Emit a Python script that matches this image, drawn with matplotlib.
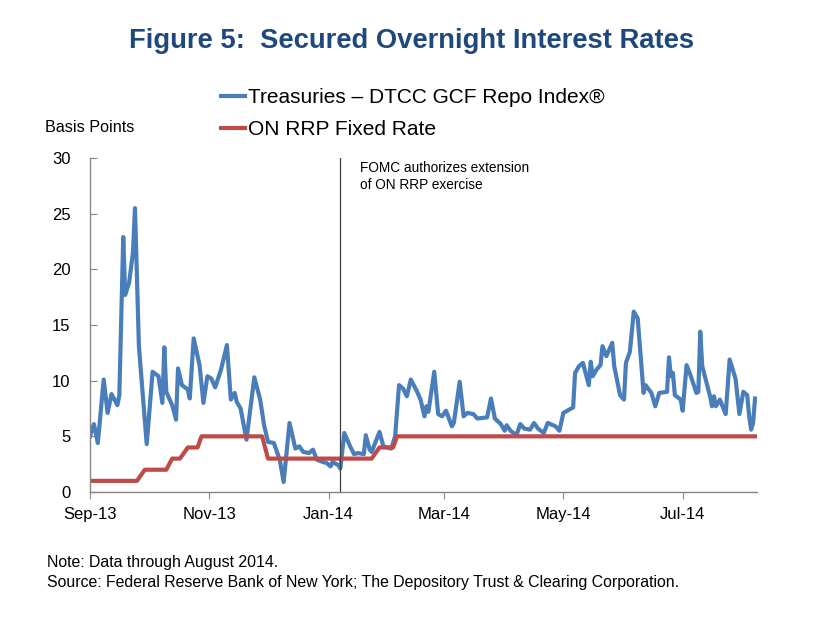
import matplotlib
matplotlib.use("Agg")
import matplotlib.pyplot as plt
import matplotlib.dates as mdates
import pandas as pd

# ---- data (basis points) ----
repo_dates = [
    "2013-09-23", "2013-09-25", "2013-09-27", "2013-09-30", "2013-10-02", "2013-10-04",
    "2013-10-07", "2013-10-08", "2013-10-10", "2013-10-11", "2013-10-13", "2013-10-15",
    "2013-10-16", "2013-10-18", "2013-10-22", "2013-10-25", "2013-10-28", "2013-10-30",
    "2013-10-31", "2013-11-01", "2013-11-04", "2013-11-06", "2013-11-07", "2013-11-09",
    "2013-11-12", "2013-11-13", "2013-11-15", "2013-11-18", "2013-11-20", "2013-11-22",
    "2013-11-24", "2013-11-26", "2013-11-29", "2013-12-02", "2013-12-04", "2013-12-06",
    "2013-12-07", "2013-12-09", "2013-12-12", "2013-12-16", "2013-12-19", "2013-12-21",
    "2013-12-23", "2013-12-26", "2013-12-29", "2013-12-31", "2014-01-03", "2014-01-06",
    "2014-01-08", "2014-01-10", "2014-01-13", "2014-01-15", "2014-01-17", "2014-01-20",
    "2014-01-22", "2014-01-24", "2014-01-25", "2014-01-28", "2014-01-29", "2014-01-31",
    "2014-02-03", "2014-02-05", "2014-02-07", "2014-02-10", "2014-02-11", "2014-02-13",
    "2014-02-14", "2014-02-18", "2014-02-20", "2014-02-24", "2014-02-26", "2014-02-28",
    "2014-03-02", "2014-03-04", "2014-03-06", "2014-03-09", "2014-03-11", "2014-03-13",
    "2014-03-14", "2014-03-15", "2014-03-18", "2014-03-20", "2014-03-22", "2014-03-24",
    "2014-03-27", "2014-03-28", "2014-03-31", "2014-04-02", "2014-04-04", "2014-04-07",
    "2014-04-09", "2014-04-14", "2014-04-16", "2014-04-18", "2014-04-21", "2014-04-23",
    "2014-04-24", "2014-04-26", "2014-04-29", "2014-05-01", "2014-05-03", "2014-05-06",
    "2014-05-08", "2014-05-10", "2014-05-13", "2014-05-15", "2014-05-19", "2014-05-21",
    "2014-05-23", "2014-05-26", "2014-05-28", "2014-05-29", "2014-05-31", "2014-06-02",
    "2014-06-05", "2014-06-06", "2014-06-07", "2014-06-09", "2014-06-11", "2014-06-12",
    "2014-06-14", "2014-06-17", "2014-06-18", "2014-06-21", "2014-06-23", "2014-06-24",
    "2014-06-26", "2014-06-28", "2014-06-30", "2014-07-03", "2014-07-04", "2014-07-07",
    "2014-07-09", "2014-07-11", "2014-07-15", "2014-07-16", "2014-07-17", "2014-07-18",
    "2014-07-19", "2014-07-22", "2014-07-23", "2014-07-25", "2014-07-27", "2014-07-30",
    "2014-07-31", "2014-08-01", "2014-08-02", "2014-08-06", "2014-08-07", "2014-08-08",
    "2014-08-09", "2014-08-11", "2014-08-14", "2014-08-16", "2014-08-19", "2014-08-21",
    "2014-08-23", "2014-08-25", "2014-08-26", "2014-08-27", "2014-08-28", "2014-08-29",
]
repo_values = [
    5.0, 6.1, 4.4, 10.1, 7.1, 8.8,
    7.8, 8.7, 22.9, 17.7, 18.8, 21.6,
    25.5, 13.1, 4.3, 10.8, 10.4, 8.0,
    13.0, 9.0, 7.8, 6.5, 11.1, 9.6,
    9.2, 8.4, 13.8, 11.4, 8.0, 10.4,
    10.2, 9.4, 11.0, 13.2, 8.3, 8.9,
    8.1, 7.5, 4.7, 10.3, 8.3, 6.0,
    4.5, 4.4, 2.9, 0.9, 6.2, 3.9,
    4.1, 3.6, 3.5, 3.8, 2.9, 2.7,
    2.6, 2.3, 2.7, 2.4, 2.1, 5.3,
    4.1, 3.4, 3.5, 3.4, 5.1, 3.8,
    3.6, 5.4, 4.1, 3.9, 5.0, 9.6,
    9.3, 8.6, 10.1, 9.1, 8.3, 6.8,
    7.7, 7.2, 10.8, 7.0, 6.8, 7.3,
    5.9, 6.2, 9.9, 6.8, 7.1, 7.0,
    6.6, 6.7, 8.4, 6.6, 6.1, 5.5,
    6.0, 5.5, 5.1, 6.1, 5.7, 5.6,
    6.2, 5.7, 5.3, 6.2, 5.9, 5.5,
    7.1, 7.4, 7.6, 10.7, 11.3, 11.6,
    9.6, 11.7, 10.4, 11.0, 11.4, 13.1,
    12.2, 13.4, 11.3, 8.7, 8.3, 11.6,
    12.6, 16.2, 15.6, 8.9, 9.6, 8.9,
    7.7, 8.9, 9.0, 12.1, 10.4, 10.7,
    8.7, 8.3, 7.3, 11.4, 10.5, 8.9,
    9.0, 14.4, 11.3, 8.6, 7.7, 8.6,
    7.7, 8.3, 7.0, 11.9, 10.2, 7.0,
    9.0, 8.7, 6.8, 5.6, 6.2, 8.4,
]

rrp_dates = [
    "2013-09-23", "2013-10-17", "2013-10-21", "2013-11-01", "2013-11-04", "2013-11-08",
    "2013-11-12", "2013-11-17", "2013-11-19", "2013-12-20", "2013-12-23", "2014-02-14",
    "2014-02-18", "2014-02-25", "2014-02-27", "2014-08-29",
]
rrp_values = [1, 1, 2, 2, 3, 3, 4, 4, 5, 5, 3, 3, 4, 4, 5, 5]

tick_dates = ["2013-09-23", "2013-11-23", "2014-01-23", "2014-03-23", "2014-05-23", "2014-07-23"]
fomc_date = "2014-01-29"

title = "Figure 5:  Secured Overnight Interest Rates"
series_names = ["Treasuries \u2013 DTCC GCF Repo Index\u00ae", "ON RRP Fixed Rate"]

plt.rcParams["font.family"] = ["Liberation Sans", "DejaVu Sans"]

blue = "#4A7EBB"
red = "#BE4B48"
grey = "#868686"

fig = plt.figure(figsize=(8.24, 6.18), dpi=100)
ax = fig.add_axes([90 / 824, 1 - 492 / 618, 667 / 824, 334 / 618])

ax.plot(pd.to_datetime(repo_dates), repo_values, color=blue, lw=3.0,
        solid_joinstyle="round", label=series_names[0])
ax.plot(pd.to_datetime(rrp_dates), rrp_values, color=red, lw=3.0,
        solid_joinstyle="round", label=series_names[1])

# FOMC marker line
ax.axvline(pd.Timestamp(fomc_date), color="#404040", lw=0.9)
ax.text(pd.Timestamp(fomc_date) + pd.Timedelta(days=10), 29.75,
        "FOMC authorizes extension\nof ON RRP exercise",
        fontsize=9.8, va="top", ha="left", linespacing=1.25)

ax.set_ylim(0, 30)
ax.set_yticks(range(0, 31, 5))
ax.set_xlim(pd.Timestamp("2013-09-23"), pd.Timestamp("2014-08-30"))
ax.set_xticks(pd.to_datetime(tick_dates))
ax.xaxis.set_major_formatter(mdates.DateFormatter("%b-%y"))

for side in ["top", "right"]:
    ax.spines[side].set_visible(False)
for side in ["left", "bottom"]:
    ax.spines[side].set_color(grey)
    ax.spines[side].set_linewidth(1.0)
ax.tick_params(axis="y", direction="in", length=5, color=grey, labelsize=12, pad=14)
ax.tick_params(axis="x", direction="out", length=5, color=grey, labelsize=12, pad=6)

fig.text(0.5, 1 - 41 / 618, title, ha="center", va="center", fontsize=19.7,
         fontweight="bold", color="#1F497D")
fig.text(45 / 824, 1 - 128 / 618, "Basis Points", ha="left", va="center", fontsize=11.6)

fig.legend(loc="upper left", bbox_to_anchor=(221 / 824, 1 - 88 / 618), frameon=False,
           fontsize=15, handlelength=1.15, handletextpad=0.15, labelspacing=0.62,
           borderaxespad=0, borderpad=0)

fig.text(47 / 824, 1 - 562 / 618, "Note: Data through August 2014.", ha="left",
         va="center", fontsize=11.4)
fig.text(47 / 824, 1 - 582 / 618,
         "Source: Federal Reserve Bank of New York; The Depository Trust & Clearing Corporation.",
         ha="left", va="center", fontsize=11.4)

fig.savefig("out.png", dpi=100)
